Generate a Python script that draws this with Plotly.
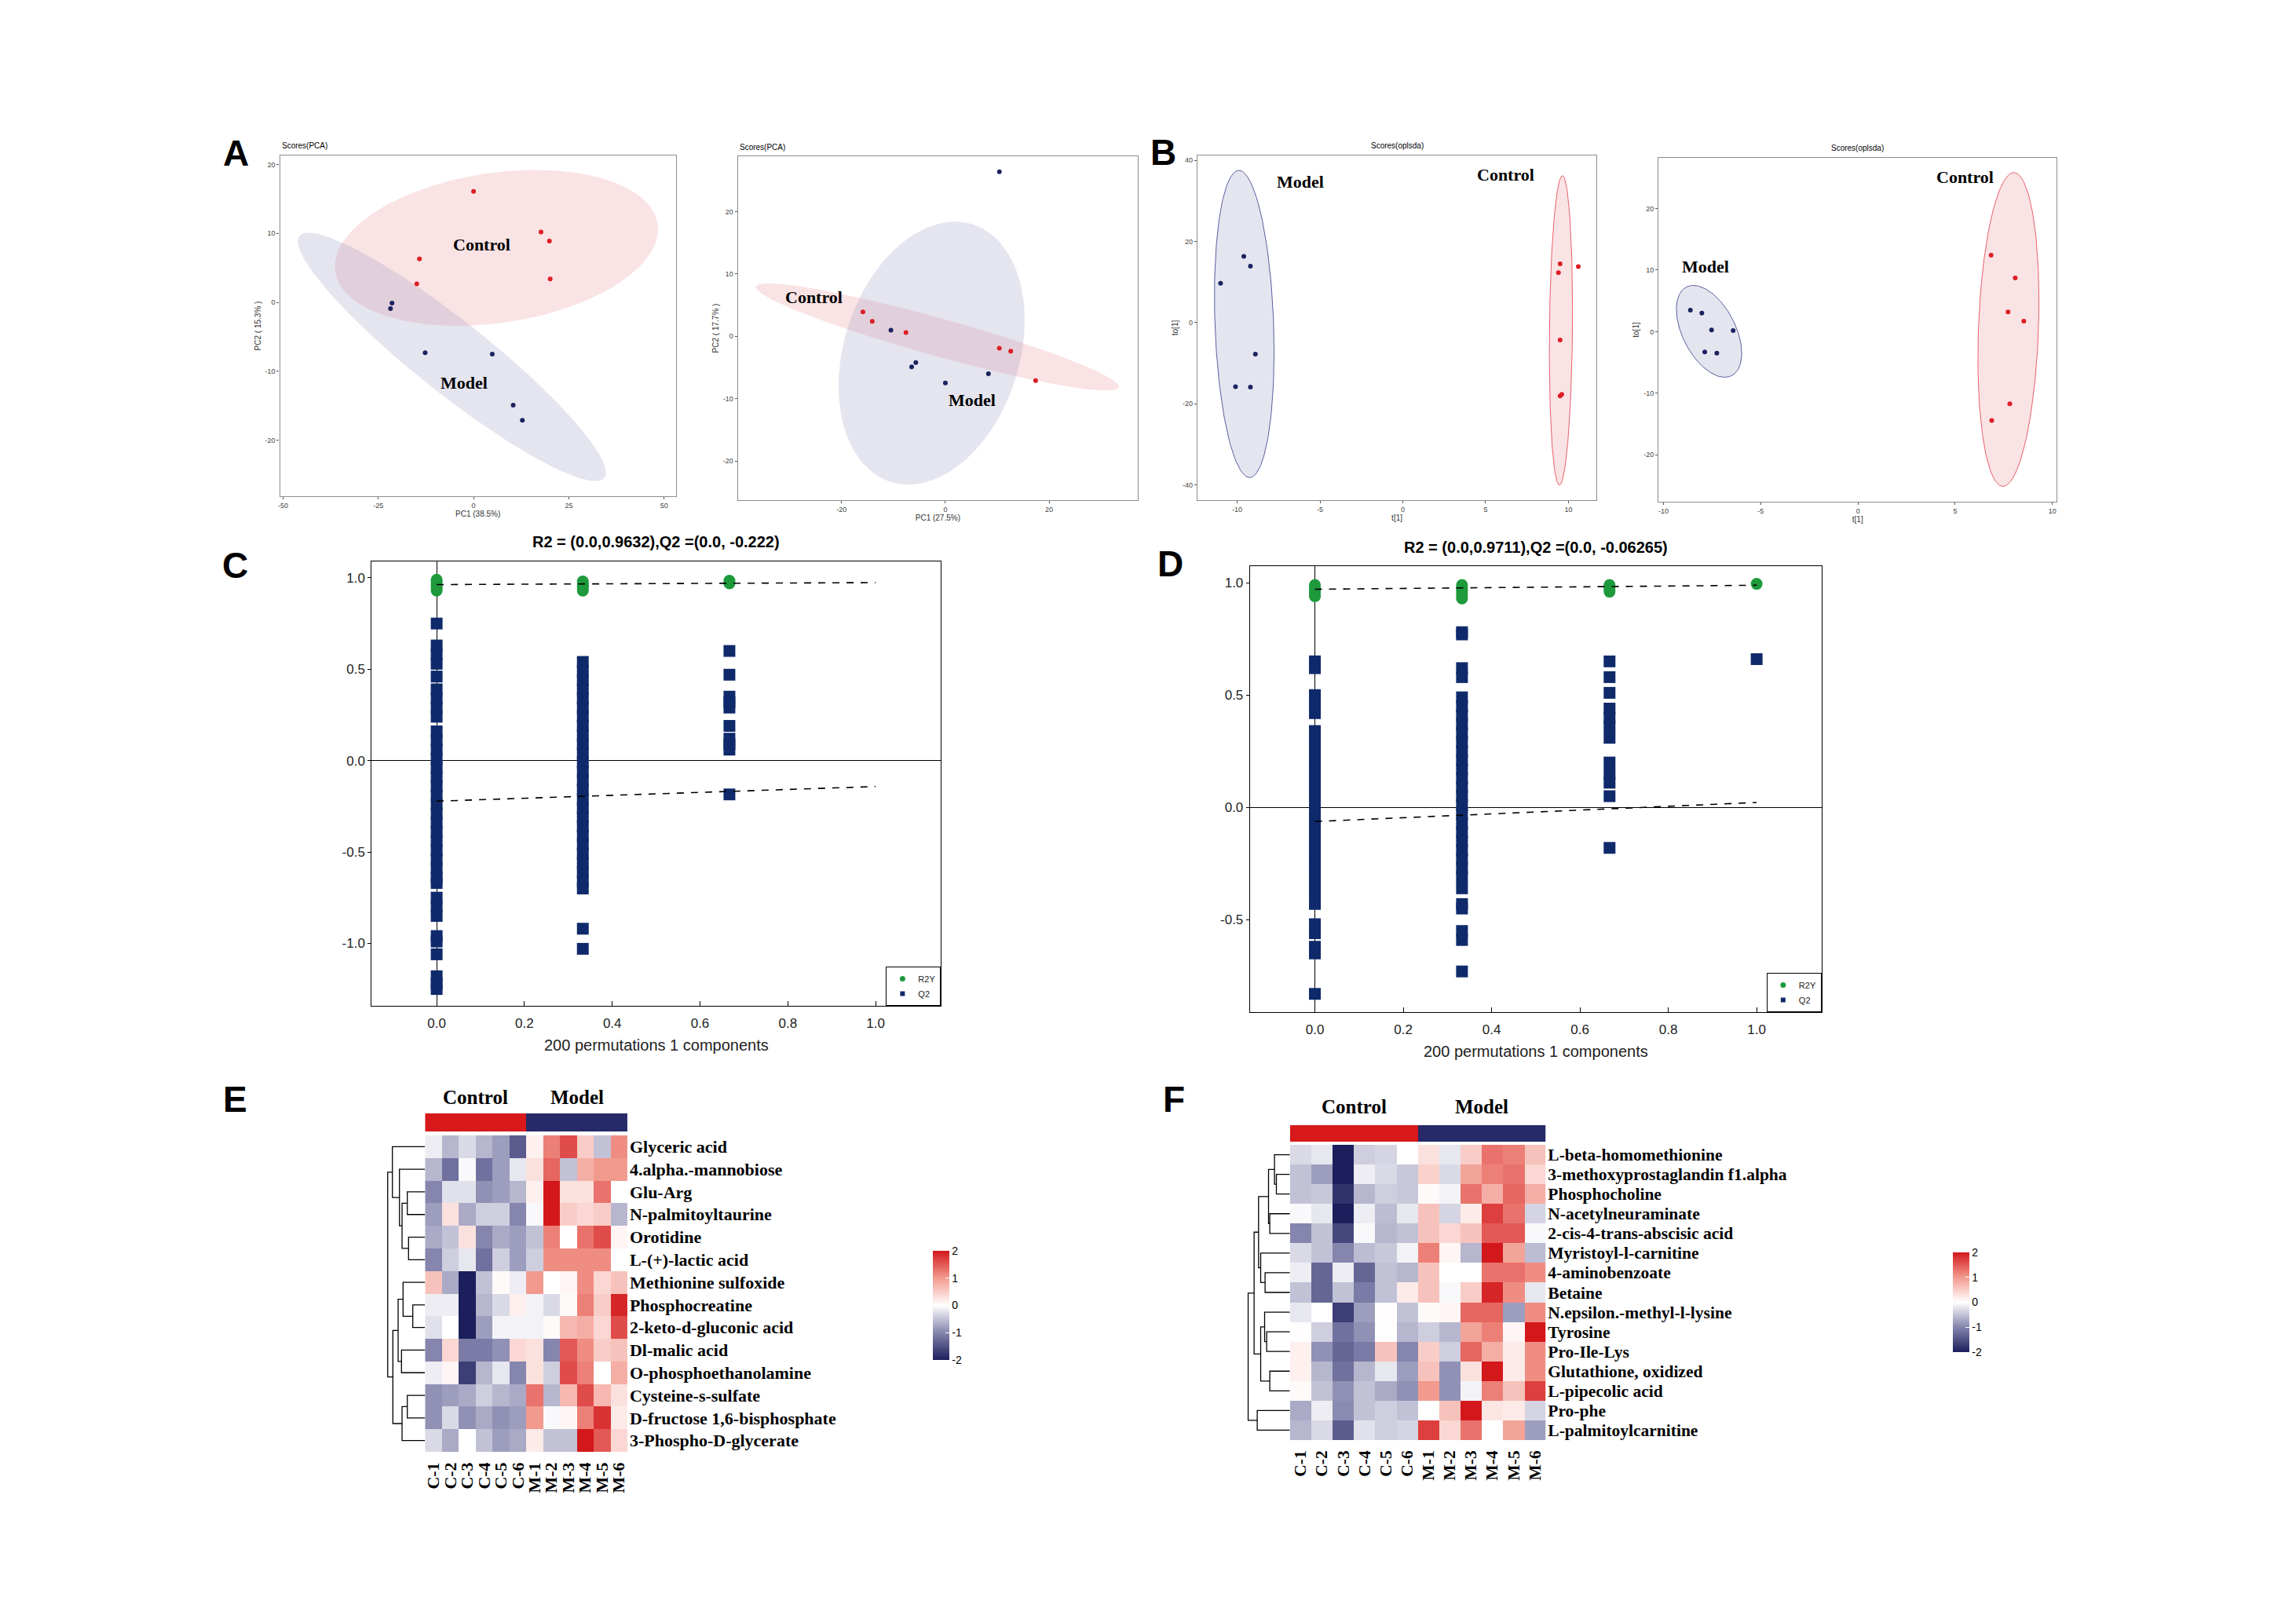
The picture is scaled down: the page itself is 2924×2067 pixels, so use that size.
import numpy as np
import plotly.graph_objects as go

W, H = 2924, 2067
OFF = 8  # page margin around the plot div

# ---------------- A: PCA score plots ----------------
a1_ctrl_x = [0.0, 17.7, 19.9, -14.2, -14.9, 20.1]
a1_ctrl_y = [16.1, 10.2, 8.9, 6.3, 2.7, 3.4]
a1_model_x = [-21.4, -21.8, -12.7, 4.9, 10.4, 12.8]
a1_model_y = [-0.1, -0.9, -7.3, -7.5, -14.9, -17.1]

a2_ctrl_x = [-15.9, -14.1, -7.6, 10.4, 12.6, 17.4]
a2_ctrl_y = [3.9, 2.4, 0.6, -1.9, -2.4, -7.1]
a2_model_x = [10.4, -10.5, -5.7, -6.5, 0.0, 8.3]
a2_model_y = [26.4, 1.0, -4.2, -4.9, -7.5, -6.0]

# ---------------- B: OPLS-DA score plots ----------------
b1_ctrl_x = [9.5, 9.4, 10.6, 9.5, 9.5, 9.6]
b1_ctrl_y = [14.5, 12.3, 13.8, -4.3, -18.1, -17.7]
b1_model_x = [-9.6, -9.2, -11.0, -8.9, -10.1, -9.2]
b1_model_y = [16.3, 13.9, 9.7, -7.8, -15.8, -15.9]

b2_ctrl_x = [6.85, 8.09, 7.72, 8.53, 7.81, 6.88]
b2_ctrl_y = [12.4, 8.7, 3.2, 1.7, -11.7, -14.4]
b2_model_x = [-8.62, -8.03, -7.53, -6.42, -7.88, -7.26]
b2_model_y = [3.5, 3.0, 0.26, 0.17, -3.3, -3.5]

# confidence ellipses: centre x, centre y, half width, half height, tilt
a1_ctrl_ell = [6.0, 7.9, 42.4, 11.3, 0.24]
a1_model_ell = [-5.7, -7.9, 40.4, 18.0, -0.93]
a2_ctrl_ell = [-1.55, -0.1, 35.0, 8.6, -0.93]
a2_model_ell = [-2.65, -2.7, 17.95, 21.1, 0.25]
b1_ctrl_ell = [9.55, -1.95, 0.7, 38.15, 0.13]
b1_model_ell = [-9.57, -0.35, 1.8, 37.85, -0.18]
b2_ctrl_ell = [7.74, 0.35, 1.57, 25.45, 0.18]
b2_model_ell = [-7.66, 0.05, 1.68, 7.45, -0.48]

# ---------------- C / D: permutation tests ----------------
c_r2y_x = [0.0] * 7 + [0.333] * 6 + [0.667] * 3
c_r2y_y = [0.99, 0.98, 0.97, 0.96, 0.95, 0.94, 0.93,
           0.98, 0.97, 0.96, 0.95, 0.94, 0.93,
           0.985, 0.975, 0.97]
c_q2_0 = [0.75, 0.63, 0.58, 0.53, 0.46, 0.39, 0.34, 0.29, 0.24,
          0.16, 0.11, 0.06, 0.01, -0.04, -0.09, -0.14, -0.19, -0.24, -0.29,
          -0.34, -0.39, -0.44, -0.49, -0.54, -0.59, -0.64, -0.67,
          -0.75, -0.80, -0.85, -0.96, -0.99, -1.06, -1.18, -1.22, -1.25]
c_q2_1 = [0.54, 0.49, 0.44, 0.39, 0.34, 0.29, 0.24, 0.19, 0.14, 0.09, 0.04,
          -0.01, -0.06, -0.11, -0.16, -0.21, -0.26, -0.31, -0.36, -0.41,
          -0.46, -0.51, -0.56, -0.61, -0.66, -0.70, -0.92, -1.03]
c_q2_2 = [0.60, 0.47, 0.35, 0.32, 0.29, 0.19, 0.12, 0.09, 0.06, -0.185]
c_q2_x = [0.0] * len(c_q2_0) + [0.333] * len(c_q2_1) + [0.667] * len(c_q2_2)
c_q2_y = c_q2_0 + c_q2_1 + c_q2_2
c_r2_line = [0.9632, 0.974]
c_q2_line = [-0.222, -0.142]

d_r2y_x = [0.0] * 6 + [0.333] * 7 + [0.667] * 4 + [1.0]
d_r2y_y = [0.99, 0.98, 0.97, 0.96, 0.95, 0.94,
           0.99, 0.98, 0.97, 0.96, 0.95, 0.94, 0.93,
           0.99, 0.98, 0.97, 0.96,
           0.995]
d_q2_0 = [0.65, 0.62, 0.50, 0.46, 0.42, 0.34, 0.30, 0.26, 0.22, 0.18, 0.14,
          0.10, 0.06, 0.02, -0.02, -0.06, -0.10, -0.14, -0.18, -0.22, -0.26,
          -0.30, -0.34, -0.38, -0.43, -0.52, -0.56, -0.62, -0.65, -0.83]
d_q2_1 = [0.78, 0.77, 0.62, 0.58, 0.49, 0.45, 0.41, 0.37, 0.33, 0.29, 0.25,
          0.21, 0.17, 0.13, 0.09, 0.05, 0.01, -0.03, -0.07, -0.11, -0.15,
          -0.19, -0.23, -0.27, -0.31, -0.36, -0.43, -0.45, -0.55, -0.59, -0.73]
d_q2_2 = [0.65, 0.58, 0.51, 0.44, 0.40, 0.36, 0.31, 0.20, 0.15, 0.11, 0.05, -0.18]
d_q2_3 = [0.66]
d_q2_x = ([0.0] * len(d_q2_0) + [0.333] * len(d_q2_1)
          + [0.667] * len(d_q2_2) + [1.0] * len(d_q2_3))
d_q2_y = d_q2_0 + d_q2_1 + d_q2_2 + d_q2_3
d_r2_line = [0.9711, 0.989]
d_q2_line = [-0.06265, 0.022]
line_x = [0.0, 1.0]

# ---------------- E / F: heatmaps ----------------
samples = ["C-1", "C-2", "C-3", "C-4", "C-5", "C-6",
           "M-1", "M-2", "M-3", "M-4", "M-5", "M-6"]
groups = ["Control"] * 6 + ["Model"] * 6

e_rows = ["Glyceric acid", "4.alpha.-mannobiose", "Glu-Arg", "N-palmitoyltaurine",
          "Orotidine", "L-(+)-lactic acid", "Methionine sulfoxide", "Phosphocreatine",
          "2-keto-d-gluconic acid", "Dl-malic acid", "O-phosphoethanolamine",
          "Cysteine-s-sulfate", "D-fructose 1,6-bisphosphate", "3-Phospho-D-glycerate"]
e_values = [
    [-0.15, -0.6, -0.3, -0.6, -0.8, -1.4, 0.15, 1.2, 1.6, 0.5, -0.5, 1.1],
    [-0.6, -1.2, -0.05, -1.2, -0.8, -0.2, 0.3, 1.4, -0.5, 0.8, 1.0, 1.0],
    [-1.0, -0.25, -0.25, -0.9, -0.8, -0.6, 0.15, 2.0, 0.3, 0.3, 1.3, 0.0],
    [-0.8, 0.3, -0.7, -0.4, -0.4, -1.0, -0.05, 2.0, 0.5, 0.4, 0.5, -0.6],
    [-0.7, -0.5, 0.3, -1.0, -0.7, -0.8, -0.5, 1.2, 0.0, 1.3, 1.6, 0.1],
    [-1.0, -0.4, -0.2, -1.2, -0.4, -0.8, -0.4, 1.1, 1.1, 1.1, 1.1, 0.0],
    [0.6, -0.7, -2.0, -0.5, 0.05, -0.15, 1.0, 0.0, 0.1, 1.1, 0.4, 0.6],
    [-0.15, -0.15, -2.0, -0.6, -0.3, 0.15, -0.1, -0.3, 0.05, 1.2, 0.5, 1.9],
    [-0.25, 0.0, -2.0, -0.8, -0.1, -0.1, -0.1, 0.05, 0.7, 0.8, 0.4, 1.6],
    [-1.0, 0.4, -1.1, -1.1, -0.9, 0.4, 0.3, -1.0, 1.5, 1.1, 0.5, 0.6],
    [-0.15, 0.1, -1.7, -0.6, -0.2, -1.0, 0.3, -0.4, 1.6, 1.2, 0.0, 0.8],
    [-0.9, -0.8, -0.7, -0.4, -0.6, -0.7, 1.3, -0.6, 0.7, 1.6, 0.7, 0.3],
    [-0.9, -0.3, -0.9, -0.7, -0.9, -0.8, 1.0, -0.05, 0.1, 1.2, 1.8, 0.2],
    [-0.3, -0.7, 0.0, -0.5, -0.8, -0.7, 0.2, -0.5, -0.5, 2.0, 1.5, 0.4],
]
# dendrogram merges: (node a, node b, height)
e_merges = [(2, 3, 22.6), (4, 5, 21.0), (14, 15, 29.3), (1, 16, 32.6), (0, 17, 41.6),
            (7, 8, 15.6), (6, 19, 28.0), (9, 10, 30.0), (20, 21, 34.3),
            (11, 12, 22.6), (13, 23, 29.3), (22, 24, 41.0), (18, 25, 47.6)]

f_rows = ["L-beta-homomethionine", "3-methoxyprostaglandin f1.alpha", "Phosphocholine",
          "N-acetylneuraminate", "2-cis-4-trans-abscisic acid", "Myristoyl-l-carnitine",
          "4-aminobenzoate", "Betaine", "N.epsilon.-methyl-l-lysine", "Tyrosine",
          "Pro-Ile-Lys", "Glutathione, oxidized", "L-pipecolic acid", "Pro-phe",
          "L-palmitoylcarnitine"]
f_values = [
    [-0.3, -0.2, -2.0, -0.4, -0.35, 0.0, 0.3, -0.2, 0.5, 1.3, 1.2, 0.6],
    [-0.5, -0.8, -2.0, -0.15, -0.3, -0.45, 0.45, -0.3, 0.9, 1.2, 1.3, 0.4],
    [-0.5, -0.45, -1.8, -0.6, -0.4, -0.45, 0.05, -0.1, 1.3, 0.8, 1.4, 0.8],
    [-0.05, -0.2, -2.0, -0.15, -0.55, -0.2, 0.6, -0.35, 0.2, 1.7, 1.3, -0.35],
    [-1.0, -0.5, -1.6, -0.05, -0.6, -0.5, 0.6, 0.4, 0.6, 1.5, 1.5, -0.05],
    [-0.3, -0.5, -1.0, -0.55, -0.45, -0.1, 1.2, 0.1, -0.6, 2.0, 0.9, -0.55],
    [-0.15, -1.3, -0.15, -1.3, -0.5, -0.6, 0.6, 0.0, 0.0, 1.3, 1.3, 1.1],
    [-0.5, -1.3, -0.5, -1.1, -0.5, 0.2, 0.6, -0.05, 0.5, 1.9, 1.1, -0.2],
    [-0.2, 0.0, -1.7, -0.8, 0.02, -0.5, 0.05, 0.1, 1.4, 1.4, -0.8, 1.1],
    [0.02, -0.4, -1.2, -0.9, -0.02, -0.6, -0.4, -0.6, 0.9, 1.2, 0.1, 2.0],
    [0.15, -0.9, -1.3, -1.1, 0.6, -1.0, 0.5, -0.4, 1.4, 0.8, 0.2, 1.1],
    [0.15, -0.6, -1.2, -0.6, -0.2, -0.8, 0.6, -0.9, 0.3, 2.0, 0.2, 1.1],
    [0.05, -0.5, -0.9, -0.5, -0.7, -0.9, 1.0, -0.9, -0.1, 1.2, 0.6, 1.7],
    [-0.7, -0.15, -0.95, -0.5, -0.4, -0.5, 0.0, 0.6, 2.0, 0.25, 0.2, -0.35],
    [-0.6, -0.3, -1.4, -0.25, -0.4, -0.35, 1.7, 0.4, 1.3, 0.0, 0.9, -0.8],
]
f_merges = [(1, 2, 17.3), (0, 15, 19.7), (3, 4, 25.7), (16, 17, 27.3), (6, 7, 31.7),
            (5, 19, 37.3), (18, 20, 40.0), (9, 10, 29.7), (8, 22, 32.3),
            (11, 12, 25.7), (23, 24, 37.3), (21, 25, 45.7), (13, 14, 41.7),
            (26, 27, 53.3)]

# ---------------- styling ----------------
RED = "#dc1e24"
NAVY = "#1c2260"
GREEN = "#1e9a3c"
QBLUE = "#0f2a6b"
BAR_RED = "#d7191c"
BAR_NAVY = "#262a68"
HM_SCALE = [[0.0, "#1c1f5c"], [0.25, "#8585ae"], [0.5, "#ffffff"],
            [0.75, "#f29a8e"], [1.0, "#d3181c"]]
SERIF = "Liberation Serif"
SANS = "Liberation Sans"


def dom_x(x0, x1):
    return [(x0 - OFF) / W, (x1 - OFF) / W]


def dom_y(y0, y1):
    return [1 - (y1 - OFF) / H, 1 - (y0 - OFF) / H]


def px(x):
    return (x - OFF) / W


def py(y):
    return 1 - (y - OFF) / H


def refs(n):
    return ("x", "y") if n == 1 else (f"x{n}", f"y{n}")


def keys(n):
    return ("xaxis", "yaxis") if n == 1 else (f"xaxis{n}", f"yaxis{n}")


def labels_of(vals, fmt="{:g}"):
    # plain hyphen minus, as in the original figure
    return [fmt.format(v) for v in vals]


def ellipse_xy(p, n=160):
    cx, cy, ax, ay, tilt = p
    t = np.linspace(0, 2 * np.pi, n)
    return cx + ax * np.cos(t), cy + ay * np.sin(t + np.arcsin(tilt))


def dendro_lines(merges, n):
    pos = {i: (float(i), 0.0) for i in range(n)}
    xs, ys = [], []
    for k, (a, b, h) in enumerate(merges):
        ya, ha = pos[a]
        yb, hb = pos[b]
        xs += [ha, h, h, hb, None]
        ys += [ya, ya, yb, yb, None]
        pos[n + k] = ((ya + yb) / 2, h)
    return xs, ys


fig = go.Figure()
layout = {}
notes = []


def paper_note(text, x, y, size, bold=False, family=SANS, **kw):
    notes.append(dict(text=f"<b>{text}</b>" if bold else text, x=px(x), y=py(y),
                      xref="paper", yref="paper", showarrow=False,
                      font=dict(size=size, family=family, color="black"), **kw))


# ---------- score panels (A, B) ----------
def score_panel(n, box, xr, yr, xt, yt, xtitle, ytitle, ctrl, model, ells,
                labels, outline, title, title_left):
    xa, ya = refs(n)
    fills = [("rgba(238,150,155,0.27)", "#e8606a"), ("rgba(160,160,196,0.27)", "#5a5e9e")]
    for p, (fc, lc) in zip(ells, fills):
        ex, ey = ellipse_xy(p)
        fig.add_trace(go.Scatter(x=ex, y=ey, mode="lines", fill="toself", fillcolor=fc,
                                 line=dict(color=lc if outline else "rgba(0,0,0,0)", width=1),
                                 hoverinfo="skip", showlegend=False, xaxis=xa, yaxis=ya))
    for (sx, sy), col in zip([ctrl, model], [RED, NAVY]):
        fig.add_trace(go.Scatter(x=sx, y=sy, mode="markers",
                                 marker=dict(color=col, size=6), showlegend=False,
                                 xaxis=xa, yaxis=ya))
    for txt, lx, ly in labels:
        notes.append(dict(text=f"<b>{txt}</b>", x=lx, y=ly, xref=xa, yref=ya, showarrow=False,
                          font=dict(size=22, family=SERIF, color="black")))
    common = dict(showline=True, mirror=True, linecolor="#8c8c8c", linewidth=1.3,
                  ticks="outside", ticklen=3, tickcolor="#555", showgrid=False,
                  zeroline=False, tickfont=dict(size=9, color="#444"))
    kx, ky = keys(n)
    layout[kx] = dict(domain=dom_x(box[0], box[1]), range=xr, tickvals=xt,
                      ticktext=labels_of(xt), anchor=ya,
                      title=dict(text=xtitle, font=dict(size=10, color="#333"), standoff=3),
                      **common)
    layout[ky] = dict(domain=dom_y(box[2], box[3]), range=yr, tickvals=yt,
                      ticktext=labels_of(yt), anchor=xa,
                      title=dict(text=ytitle, font=dict(size=10, color="#333"), standoff=3),
                      **common)
    if title_left:
        paper_note(title, box[0], box[2] - 12, 10, xanchor="left", yanchor="middle")
    else:
        paper_note(title, (box[0] + box[1]) / 2, box[2] - 12, 10, xanchor="center",
                   yanchor="middle")


score_panel(1, (354, 859, 198, 632), [-50.8, 53.1], [-28.1, 21.3],
            [-50, -25, 0, 25, 50], [-20, -10, 0, 10, 20], "PC1 (38.5%)", "PC2 ( 15.3% )",
            (a1_ctrl_x, a1_ctrl_y), (a1_model_x, a1_model_y), [a1_ctrl_ell, a1_model_ell],
            [("Control", 2.1, 8.4), ("Model", -2.5, -11.6)], False, "Scores(PCA)", True)
score_panel(2, (938, 1448, 199, 637), [-40.0, 37.1], [-26.3, 28.9],
            [-20, 0, 20], [-20, -10, 0, 10, 20], "PC1 (27.5%)", "PC2 ( 17.7% )",
            (a2_ctrl_x, a2_ctrl_y), (a2_model_x, a2_model_y), [a2_ctrl_ell, a2_model_ell],
            [("Control", -25.3, 6.3), ("Model", 5.1, -10.2)], False, "Scores(PCA)", True)
score_panel(3, (1524, 2033, 198, 637), [-12.4, 11.7], [-43.8, 41.2],
            [-10, -5, 0, 5, 10], [-40, -20, 0, 20, 40], "t[1]", "to[1]",
            (b1_ctrl_x, b1_ctrl_y), (b1_model_x, b1_model_y), [b1_ctrl_ell, b1_model_ell],
            [("Model", -6.2, 34.8), ("Control", 6.2, 36.5)], True, "Scores(oplsda)", False)
score_panel(4, (2112, 2620, 201, 639), [-10.26, 10.23], [-27.6, 28.2],
            [-10, -5, 0, 5, 10], [-20, -10, 0, 10, 20], "t[1]", "to[1]",
            (b2_ctrl_x, b2_ctrl_y), (b2_model_x, b2_model_y), [b2_ctrl_ell, b2_model_ell],
            [("Model", -7.84, 10.5), ("Control", 5.5, 25.1)], True, "Scores(oplsda)", False)


# ---------- permutation panels (C, D) ----------
def perm_panel(n, box, xr, yr, ytv, r2x, r2y, q2x, q2y, r2line, q2line, title, legend,
               title_y):
    xa, ya = refs(n)
    fig.add_trace(go.Scatter(x=r2x, y=r2y, mode="markers", showlegend=False,
                             marker=dict(color=GREEN, size=15, symbol="circle"),
                             xaxis=xa, yaxis=ya))
    fig.add_trace(go.Scatter(x=q2x, y=q2y, mode="markers", showlegend=False,
                             marker=dict(color=QBLUE, size=15, symbol="square"),
                             xaxis=xa, yaxis=ya))
    for yy in (r2line, q2line):
        fig.add_trace(go.Scatter(x=line_x, y=yy, mode="lines", showlegend=False,
                                 line=dict(color="black", width=1.6, dash="dash"),
                                 xaxis=xa, yaxis=ya))
    fig.add_trace(go.Scatter(x=[None], y=[None], mode="markers", name="R2Y", legend=legend,
                             marker=dict(color=GREEN, size=7, symbol="circle"),
                             xaxis=xa, yaxis=ya))
    fig.add_trace(go.Scatter(x=[None], y=[None], mode="markers", name="Q2", legend=legend,
                             marker=dict(color=QBLUE, size=6, symbol="square"),
                             xaxis=xa, yaxis=ya))
    kx, ky = keys(n)
    common = dict(showline=True, mirror=True, linecolor="black", linewidth=1.2,
                  showgrid=False, zeroline=True, zerolinecolor="black", zerolinewidth=1.4,
                  tickfont=dict(size=17, color="#222"), layer="above traces",
                  tickcolor="black")
    xtv = [0.0, 0.2, 0.4, 0.6, 0.8, 1.0]
    layout[kx] = dict(domain=dom_x(box[0], box[1]), range=xr, anchor=ya,
                      tickvals=xtv, ticktext=labels_of(xtv, "{:.1f}"),
                      ticks="inside", ticklen=6, ticklabelstandoff=6,
                      title=dict(text="200 permutations 1 components",
                                 font=dict(size=20, color="#222"), standoff=12),
                      **common)
    layout[ky] = dict(domain=dom_y(box[2], box[3]), range=yr, anchor=xa, tickvals=ytv,
                      ticktext=labels_of(ytv, "{:.1f}"),
                      ticks="outside", ticklen=4, **common)
    paper_note(title, (box[0] + box[1]) / 2, title_y, 20, bold=True,
               xanchor="center", yanchor="middle")
    layout[legend] = dict(x=px(box[1]), y=py(box[3]), xanchor="right",
                          yanchor="bottom", bordercolor="black", borderwidth=1,
                          bgcolor="white", font=dict(size=11, color="#222"),
                          tracegroupgap=0, itemwidth=30)


perm_panel(5, (471, 1197, 715, 1281), [-0.148, 1.149], [-1.342, 1.090],
           [-1.0, -0.5, 0.0, 0.5, 1.0], c_r2y_x, c_r2y_y, c_q2_x, c_q2_y,
           c_r2_line, c_q2_line, "R2 = (0.0,0.9632),Q2 =(0.0, -0.222)", "legend", 690)
perm_panel(6, (1591, 2320, 721, 1289), [-0.147, 1.147], [-0.911, 1.074],
           [-0.5, 0.0, 0.5, 1.0], d_r2y_x, d_r2y_y, d_q2_x, d_q2_y,
           d_r2_line, d_q2_line, "R2 = (0.0,0.9711),Q2 =(0.0, -0.06265)", "legend2", 697)


# ---------- heatmaps (E, F) ----------
def heat_panel(n0, cells, dendro_left, bar, rows, values, merges, dmax, cbar, label_y,
               font_size):
    nrow = len(rows)
    # dendrogram
    xa, ya = refs(n0)
    dx, dy = dendro_lines(merges, nrow)
    fig.add_trace(go.Scatter(x=dx, y=dy, mode="lines", line=dict(color="black", width=1.3),
                             hoverinfo="skip", showlegend=False, xaxis=xa, yaxis=ya))
    kx, ky = keys(n0)
    hidden = dict(visible=False, showgrid=False, zeroline=False)
    layout[kx] = dict(domain=dom_x(dendro_left, cells[0]), range=[dmax, 0], anchor=ya, **hidden)
    layout[ky] = dict(domain=dom_y(cells[2], cells[3]), range=[nrow - 0.5, -0.5], anchor=xa,
                      **hidden)
    # heatmap
    xa, ya = refs(n0 + 1)
    cb_ticks = [-2, -1, 0, 1, 2]
    fig.add_trace(go.Heatmap(
        z=values, x=list(range(len(samples))), y=list(range(nrow)), colorscale=HM_SCALE,
        zmin=-2, zmax=2, xaxis=xa, yaxis=ya,
        colorbar=dict(x=px(cbar[0]), xanchor="left", y=py(cbar[1]), yanchor="top",
                      len=cbar[2], lenmode="pixels", thickness=21, outlinewidth=0,
                      tickvals=cb_ticks, ticktext=labels_of(cb_ticks), ticks="inside",
                      ticklen=5, tickcolor="white", tickfont=dict(size=14, color="black"),
                      xpad=0, ypad=0)))
    kx, ky = keys(n0 + 1)
    layout[kx] = dict(domain=dom_x(cells[0], cells[1]), range=[-0.5, len(samples) - 0.5],
                      anchor=ya, tickvals=list(range(len(samples))),
                      ticktext=[f"<b>{s}</b>" for s in samples], tickangle=-90,
                      ticks="", showline=False, showgrid=False, zeroline=False,
                      ticklabelstandoff=8,
                      tickfont=dict(size=font_size, family=SERIF, color="black"))
    layout[ky] = dict(domain=dom_y(cells[2], cells[3]), range=[nrow - 0.5, -0.5], anchor=xa,
                      side="right", tickvals=list(range(nrow)),
                      ticktext=[f"<b>{r}</b>" for r in rows], ticks="", showline=False,
                      showgrid=False, zeroline=False, ticklabelstandoff=2,
                      tickfont=dict(size=font_size, family=SERIF, color="black"))
    # group bar
    xa, ya = refs(n0 + 2)
    gnames = list(dict.fromkeys(groups))
    fig.add_trace(go.Heatmap(z=[[gnames.index(g) for g in groups]],
                             x=list(range(len(samples))), y=[0],
                             colorscale=[[0, BAR_RED], [0.5, BAR_RED], [0.5, BAR_NAVY],
                                         [1, BAR_NAVY]],
                             zmin=0, zmax=1, showscale=False, hoverinfo="skip",
                             xaxis=xa, yaxis=ya))
    kx, ky = keys(n0 + 2)
    layout[kx] = dict(domain=dom_x(cells[0], cells[1]), range=[-0.5, len(samples) - 0.5],
                      anchor=ya, **hidden)
    layout[ky] = dict(domain=dom_y(bar[0], bar[1]), range=[-0.5, 0.5], anchor=xa, **hidden)
    for g in gnames:
        idx = [i for i, gg in enumerate(groups) if gg == g]
        notes.append(dict(text=f"<b>{g}</b>", x=float(np.mean(idx)), y=py(label_y),
                          xref=xa, yref="paper", showarrow=False, yanchor="middle",
                          font=dict(size=25, family=SERIF, color="black")))


heat_panel(7, (539, 797, 1446, 1849), 485, (1418, 1441), e_rows, e_values, e_merges, 54,
           (1187, 1593, 139), 1397, 22)
heat_panel(10, (1642, 1968, 1458, 1834), 1582, (1433, 1454), f_rows, f_values, f_merges, 60,
           (2487, 1595, 127), 1409, 21.5)

# ---------- panel letters ----------
for letter, lx, ly in [("A", 298, 195), ("B", 1481, 194), ("C", 297, 720),
                       ("D", 1490, 718), ("E", 297, 1400), ("F", 1494, 1400)]:
    paper_note(letter, lx, ly, 46, bold=True, xanchor="center", yanchor="middle")

fig.update_layout(**layout)
fig.update_layout(
    width=W, height=H, margin=dict(l=0, r=0, t=0, b=0),
    paper_bgcolor="white", plot_bgcolor="white",
    font=dict(family=SANS, color="black"),
    annotations=notes,
)

fig.write_html("out.html")
